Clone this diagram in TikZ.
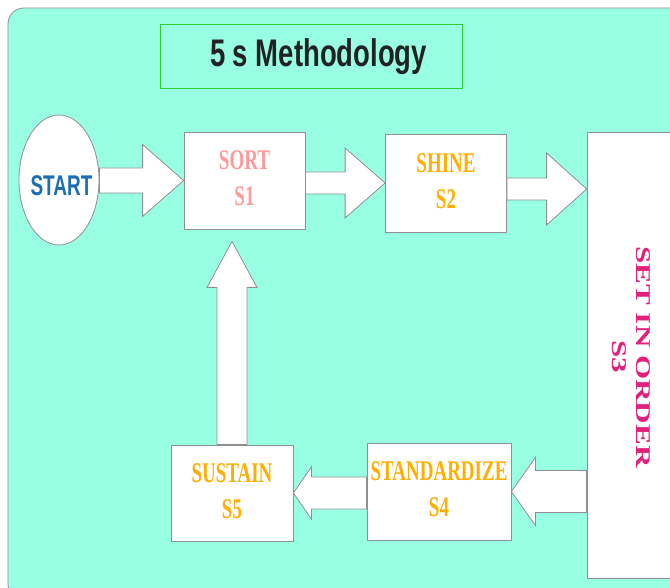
\documentclass[tikz,border=0pt]{standalone}
\usepackage{fontspec}
\setmainfont{Liberation Serif}
\newfontfamily\arialf{Liberation Sans}
\usetikzlibrary{shapes.geometric,calc}
\definecolor{bgc}{HTML}{99FFE3}
\definecolor{bordc}{HTML}{8F8F8F}
\definecolor{titlegreen}{HTML}{33CC33}
\definecolor{titletext}{HTML}{222222}
\definecolor{startblue}{HTML}{1C6EB0}
\definecolor{sortpink}{HTML}{FF9A9A}
\definecolor{steporange}{HTML}{FFAF00}
\definecolor{setmagenta}{HTML}{E3207B}
\newcommand\hblock[5]{%
  \draw[blk] let \p1=(#1), \p2=(#2), \n1={sign(\x2-\x1)} in
  (\x1,\y2+#3pt) -- (\x2-\n1*#5pt,\y2+#3pt) -- (\x2-\n1*#5pt,\y2+#4pt) -- (\x2,\y2)
  -- (\x2-\n1*#5pt,\y2-#4pt) -- (\x2-\n1*#5pt,\y2-#3pt) -- (\x1,\y2-#3pt) -- cycle;}
\newcommand\vblock[5]{%
  \draw[blk] let \p1=(#1), \p2=(#2), \n1={sign(\y2-\y1)} in
  (\x2+#3pt,\y1) -- (\x2+#3pt,\y2-\n1*#5pt) -- (\x2+#4pt,\y2-\n1*#5pt) -- (\x2,\y2)
  -- (\x2-#4pt,\y2-\n1*#5pt) -- (\x2-#3pt,\y2-\n1*#5pt) -- (\x2-#3pt,\y1) -- cycle;}
\newcommand\stx[1]{\scalebox{1}[1.5]{\begin{tabular}{@{}c@{}}#1\end{tabular}}}
\begin{document}
\begin{tikzpicture}[x=1pt,y=-1pt,
  blk/.style={draw=bordc, fill=white, line width=0.8pt, line join=miter},
  stepbox/.style={draw=bordc, fill=white, line width=0.8pt, rectangle, inner sep=0pt,
    font=\bfseries\fontsize{19}{24}\selectfont}]
\useasboundingbox (0,0) rectangle (670,588);
\clip (0,0) rectangle (670,588);
\draw[draw=bordc, fill=bgc, line width=0.8pt, rounded corners=16pt] (8,8) rectangle (700,600);
% title
\node[draw=titlegreen, fill=bgc, line width=0.8pt, minimum width=302pt, minimum height=64pt, inner sep=0pt] (title) at (311,56) {};
\node[anchor=base, inner sep=0pt, text=titletext, font=\arialf\bfseries\fontsize{27.5}{30}\selectfont] (titletxt) at (318.5,67) {\scalebox{1}[1.4]{5 s Methodology}};
% start
\node[ellipse, draw=bordc, fill=white, line width=0.8pt, minimum width=80pt, minimum height=130pt, inner sep=0pt] (start) at (59,180) {};
\node[anchor=base, inner sep=0pt, text=startblue, font=\arialf\bfseries\fontsize{19}{24}\selectfont] (starttxt) at (61.5,196) {\scalebox{1}[1.5]{START}};
% step boxes
\node[stepbox, minimum width=121pt, minimum height=97pt, text=sortpink] (sort) at (244.5,180.5) {\stx{SORT\\S1}};
\node[stepbox, minimum width=121pt, minimum height=98pt, text=steporange] (shine) at (446,183) {\stx{SHINE\\S2}};
\node[stepbox, minimum width=120pt, minimum height=446pt] (setbox) at (647,355) {};
\node[rotate=-90, inner sep=0pt, text=setmagenta, font=\bfseries\fontsize{21}{24}\selectfont] (settxt) at (629,357) {\scalebox{1.48}[1]{\begin{tabular}{@{}c@{}}SET IN ORDER\\S3\end{tabular}}};
\node[stepbox, minimum width=144pt, minimum height=97pt, text=steporange] (standardize) at (439,491.5) {\stx{STANDARDIZE\\S4}};
\node[stepbox, minimum width=122pt, minimum height=96pt, text=steporange] (sustain) at (232,493) {\stx{SUSTAIN\\S5}};
% block arrows
\hblock{start.east}{sort.west}{12.5}{36}{41}
\hblock{sort.east}{shine.west}{11}{35}{40}
\hblock{shine.east}{[yshift=-6pt]setbox.west |- shine.east}{11}{36}{40}
\hblock{setbox.west |- standardize.east}{standardize.east}{21}{34}{24}
\hblock{standardize.west}{sustain.east}{16}{26}{18}
\vblock{sustain.north}{[yshift=-12pt]sustain.north |- sort.south}{15}{25}{46}
\end{tikzpicture}
\end{document}
